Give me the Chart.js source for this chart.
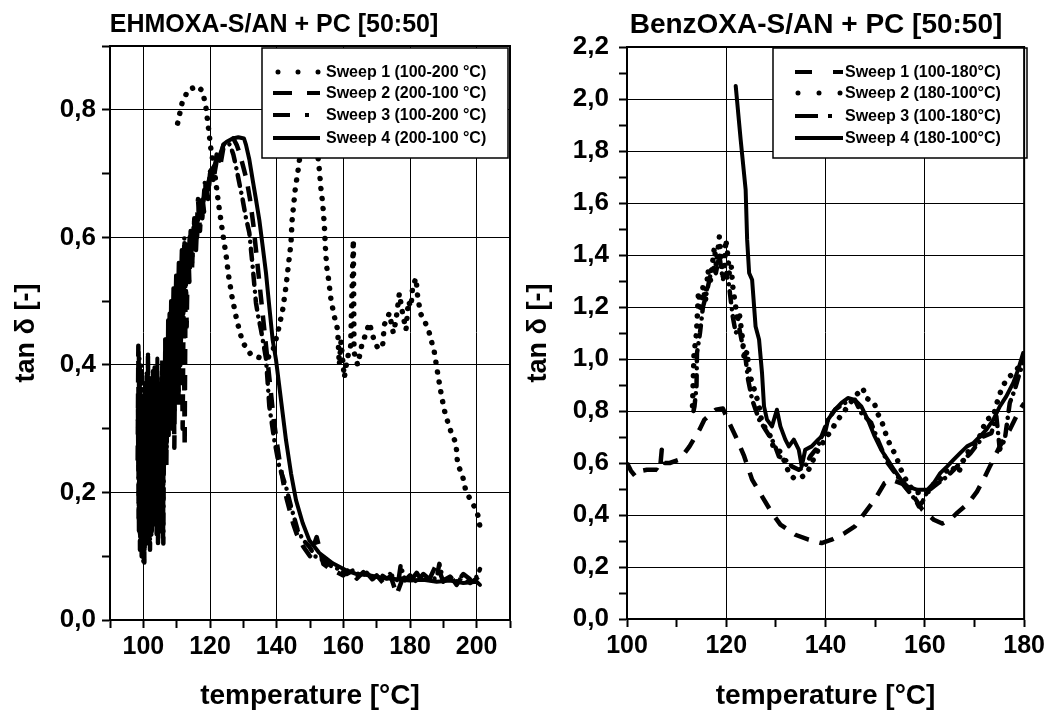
<!DOCTYPE html>
<html><head><meta charset="utf-8">
<script src="https://cdn.jsdelivr.net/npm/chart.js@4.4.1/dist/chart.umd.min.js"></script>
<style>
html,body{margin:0;padding:0;background:#fff;overflow:hidden;width:1052px;height:714px;}
canvas{position:absolute;top:0;}
#c1{left:0}
#c2{left:506px}
</style></head><body>
<canvas id="c1" width="526" height="714"></canvas>
<canvas id="c2" width="546" height="714"></canvas>
<script>
// ---------- text ----------
const titleLeft = 'EHMOXA-S/AN + PC [50:50]';
const titleRight = 'BenzOXA-S/AN + PC [50:50]';
const yAxisTitle = 'tan δ [-]';
const xAxisTitle = 'temperature [°C]';
const labelsLeft = ['Sweep 1 (100-200 °C)', 'Sweep 2 (200-100 °C)', 'Sweep 3 (100-200 °C)', 'Sweep 4 (200-100 °C)'];
const labelsRight = ['Sweep 1 (100-180°C)', 'Sweep 2 (180-100°C)', 'Sweep 3 (100-180°C)', 'Sweep 4 (180-100°C)'];

// ---------- left panel data: [temperature, tan delta] ----------
const ehSweep1 = [[110.3,0.779],[111.6,0.81],[112.3,0.817],[113.3,0.831],[114.8,0.834],[116.3,0.837],[117.8,0.829],[118.8,0.803],[119.6,0.769],[120.3,0.737],[121.3,0.706],[122.5,0.655],[123.8,0.607],[124.8,0.573],[125.6,0.539],[126.6,0.507],[127.8,0.476],[129,0.45],[130,0.434],[131.2,0.424],[132.3,0.416],[133.8,0.413],[135.8,0.41],[137.5,0.412],[139,0.425],[140.3,0.45],[141.8,0.486],[142.8,0.523],[143.6,0.56],[144.3,0.591],[144.6,0.625],[145.6,0.677],[146.6,0.711],[147.5,0.75],[148.5,0.772],[149.5,0.782],[150.5,0.778],[151.5,0.76],[152.3,0.73],[152.8,0.706],[153.3,0.675],[153.8,0.654],[154.3,0.62],[154.6,0.586],[155,0.554],[155.6,0.533],[156.3,0.502],[157.3,0.476],[158.3,0.455],[158.8,0.40],[159.3,0.437],[160.3,0.38],[161.2,0.41],[162.2,0.43],[163.0,0.596],[163.2,0.42],[164.3,0.40],[165.5,0.43],[166.8,0.45],[167.8,0.466],[169.3,0.437],[170.5,0.425],[171.8,0.431],[172.3,0.463],[173.8,0.481],[175.0,0.45],[175.8,0.47],[176.8,0.512],[177.8,0.48],[178.8,0.455],[179.5,0.50],[180.3,0.491],[180.8,0.523],[181.8,0.536],[182.3,0.507],[183.2,0.48],[184.3,0.47],[185.8,0.45],[187.3,0.42],[188.3,0.387],[189.3,0.356],[190.3,0.329],[191.3,0.311],[192.3,0.295],[193.8,0.277],[194.3,0.243],[195.6,0.23],[196.8,0.201],[198.8,0.183],[200.0,0.17],[200.8,0.157],[201,0.141]];
const ehSweep2 = [[98.3,0.25],[98.5,0.43],[98.7,0.14],[98.9,0.40],[99.1,0.13],[99.3,0.35],[99.5,0.10],[99.7,0.33],[99.9,0.12],[100.1,0.28],[100.3,0.09],[100.5,0.31],[100.7,0.12],[100.9,0.38],[101.1,0.16],[101.3,0.30],[101.5,0.13],[101.7,0.33],[101.9,0.18],[102.1,0.36],[102.3,0.15],[102.5,0.31],[102.7,0.20],[102.9,0.39],[103.1,0.22],[103.3,0.37],[103.5,0.16],[103.7,0.34],[103.9,0.21],[104.1,0.39],[104.3,0.17],[104.5,0.35],[104.7,0.19],[104.9,0.38],[105.1,0.13],[105.3,0.32],[105.5,0.24],[105.7,0.41],[105.9,0.12],[106.1,0.37],[106.3,0.26],[106.6,0.44],[106.9,0.24],[107.2,0.42],[107.5,0.30],[107.8,0.45],[108.1,0.33],[108.4,0.47],[108.7,0.30],[109.0,0.46],[109.3,0.27],[109.6,0.47],[109.9,0.38],[110.2,0.51],[110.5,0.33],[110.8,0.50],[111.1,0.40],[111.4,0.55],[111.8,0.30],[112.1,0.52],[112.4,0.27],[112.7,0.56],[113.0,0.46],[113.4,0.60],[113.8,0.53],[114.2,0.61],[114.6,0.55],[115.2,0.63],[115.8,0.58],[116.4,0.66],[117.0,0.61],[117.6,0.67],[118.2,0.64],[118.8,0.69],[119.4,0.66],[120.0,0.70],[121,0.69],[122,0.72],[123,0.71],[124,0.74],[125,0.745],[126,0.75],[127,0.755],[128,0.745],[129,0.73],[130,0.71],[131,0.69],[132,0.66],[133,0.62],[134,0.57],[135,0.52],[136,0.47],[137,0.42],[138,0.37],[139,0.32],[140,0.28],[141,0.245],[142,0.215],[143,0.19],[144,0.17],[145,0.15],[146,0.135],[148,0.115],[150,0.10],[152,0.13],[154,0.088],[156,0.08],[158,0.075],[160,0.07],[162,0.08],[164,0.065],[166,0.075],[168,0.06],[170,0.07],[172,0.058],[174,0.072],[176,0.04],[178,0.068],[180,0.06],[182,0.074],[184,0.058],[186,0.066],[188,0.088],[190,0.06],[192,0.07],[194,0.055],[196,0.072],[198,0.058],[200,0.065],[201,0.06]];
const ehSweep3 = [[98.4,0.33],[98.6,0.16],[98.8,0.41],[99.0,0.11],[99.2,0.29],[99.4,0.40],[99.6,0.15],[99.8,0.27],[100.0,0.09],[100.2,0.24],[100.4,0.14],[100.6,0.30],[100.8,0.20],[101.0,0.39],[101.2,0.17],[101.4,0.42],[101.6,0.14],[101.8,0.27],[102.0,0.11],[102.2,0.29],[102.4,0.13],[102.6,0.35],[102.8,0.23],[103.0,0.36],[103.2,0.15],[103.4,0.40],[103.6,0.19],[103.8,0.33],[104.0,0.13],[104.2,0.29],[104.4,0.12],[104.6,0.34],[104.8,0.19],[105.0,0.36],[105.2,0.15],[105.4,0.38],[105.6,0.21],[105.8,0.34],[106.0,0.12],[106.2,0.31],[106.4,0.24],[106.7,0.41],[107.0,0.27],[107.3,0.43],[107.6,0.29],[107.9,0.48],[108.2,0.34],[108.5,0.50],[108.8,0.37],[109.1,0.47],[109.4,0.33],[109.7,0.52],[110.0,0.38],[110.3,0.54],[110.6,0.36],[110.9,0.50],[111.2,0.41],[111.5,0.56],[111.9,0.45],[112.3,0.60],[112.7,0.50],[113.1,0.58],[113.5,0.53],[113.9,0.60],[114.6,0.56],[115.3,0.63],[116.1,0.60],[116.9,0.66],[117.7,0.63],[118.5,0.69],[119.3,0.66],[120.1,0.71],[121,0.69],[122,0.73],[123,0.72],[124,0.745],[125,0.75],[126,0.745],[127,0.73],[127.8,0.711],[128.8,0.685],[129.8,0.659],[130.8,0.63],[131.8,0.607],[132.8,0.554],[133.8,0.497],[134.5,0.475],[135.3,0.455],[136.8,0.41],[137.8,0.335],[139.3,0.282],[140.8,0.24],[142.8,0.209],[144.3,0.178],[146.3,0.141],[148,0.125],[149.8,0.115],[151.5,0.10],[153.8,0.094],[155,0.09],[157,0.082],[159,0.08],[161,0.072],[163,0.078],[165,0.07],[167,0.074],[169,0.062],[171,0.072],[173,0.065],[175,0.07],[176.5,0.06],[177.2,0.086],[178.5,0.062],[180,0.07],[182,0.06],[184,0.072],[186,0.063],[188,0.066],[188.8,0.088],[190,0.062],[192,0.068],[194,0.06],[196,0.072],[198,0.064],[200,0.068],[201,0.08]];
const ehSweep4 = [[98.6,0.42],[98.8,0.18],[99.0,0.36],[99.2,0.13],[99.4,0.30],[99.6,0.10],[99.8,0.34],[100.0,0.15],[100.2,0.28],[100.4,0.11],[100.6,0.37],[100.8,0.19],[101.0,0.33],[101.2,0.12],[101.4,0.29],[101.6,0.16],[101.8,0.38],[102.0,0.21],[102.2,0.35],[102.4,0.14],[102.6,0.31],[102.8,0.18],[103.0,0.39],[103.2,0.22],[103.4,0.34],[103.6,0.17],[103.8,0.36],[104.0,0.20],[104.2,0.41],[104.4,0.25],[104.6,0.33],[104.8,0.16],[105.0,0.30],[105.2,0.14],[105.4,0.37],[105.6,0.24],[105.8,0.40],[106.0,0.27],[106.2,0.36],[106.4,0.30],[106.6,0.44],[106.8,0.28],[107.0,0.41],[107.2,0.33],[107.4,0.47],[107.6,0.35],[107.8,0.43],[108.0,0.38],[108.3,0.50],[108.6,0.40],[109.0,0.52],[109.4,0.43],[109.8,0.54],[110.2,0.46],[110.6,0.56],[111.0,0.48],[111.5,0.58],[112.0,0.52],[112.5,0.59],[113.0,0.55],[114.0,0.58],[115.0,0.60],[116.0,0.62],[117.0,0.645],[118.0,0.66],[119.0,0.68],[120.0,0.695],[121.0,0.71],[122.0,0.72],[123.0,0.73],[124.0,0.745],[125.0,0.75],[126.8,0.755],[128.5,0.757],[130.2,0.755],[130.8,0.745],[131.8,0.722],[132.8,0.69],[133.8,0.659],[134.8,0.627],[135.8,0.586],[136.8,0.544],[137.8,0.491],[138.8,0.439],[139.8,0.408],[141.3,0.345],[142.8,0.282],[144.3,0.23],[145.8,0.188],[147.8,0.152],[149.8,0.125],[152.8,0.105],[156.8,0.089],[160.8,0.078],[164,0.072],[168,0.07],[172,0.066],[176,0.064],[180,0.062],[184,0.063],[188,0.06],[192,0.062],[196,0.058],[200,0.06],[201,0.055]];

// ---------- right panel data ----------
const bzSweep1 = [[100,0.6],[100.8,0.57],[101.7,0.548],[103,0.57],[104,0.574],[106,0.574],[106.6,0.565],[107,0.651],[107.6,0.60],[108.6,0.60],[110.6,0.613],[112.6,0.664],[114.6,0.728],[115.6,0.767],[117.9,0.805],[119.3,0.81],[120.6,0.754],[121.9,0.702],[123.6,0.626],[125.2,0.536],[127.2,0.472],[129.2,0.408],[130.9,0.363],[133.9,0.324],[136.6,0.305],[139.2,0.292],[141.2,0.305],[143.9,0.331],[145.9,0.356],[147.9,0.408],[149.9,0.459],[151.9,0.523],[153.2,0.536],[155.5,0.52],[157.8,0.47],[159.5,0.42],[161.8,0.382],[163.5,0.367],[165.1,0.382],[166.5,0.408],[168.8,0.446],[170.5,0.49],[171.8,0.536],[173.1,0.587],[175.1,0.664],[177.1,0.728],[179.1,0.805],[180,0.83]];
const bzSweep2 = [[113.2,0.82],[113.5,1.02],[114.0,1.10],[114.4,1.26],[114.8,1.18],[115.3,1.28],[115.8,1.22],[116.3,1.34],[116.8,1.30],[117.6,1.43],[118.0,1.36],[118.6,1.47],[119.0,1.38],[119.5,1.30],[119.9,1.46],[120.3,1.40],[120.6,1.33],[121.0,1.36],[121.3,1.28],[121.9,1.20],[122.2,1.14],[122.6,1.18],[123.3,1.074],[123.6,1.0],[124.2,1.03],[124.6,0.95],[125.2,0.908],[125.9,0.869],[126.6,0.818],[127.2,0.754],[128,0.73],[128.9,0.702],[129.5,0.66],[130.6,0.651],[131.9,0.6],[132.6,0.561],[133.6,0.542],[134.9,0.542],[136.3,0.561],[137.2,0.6],[138.5,0.651],[139.9,0.69],[141.2,0.728],[142.5,0.767],[144.5,0.818],[145.9,0.856],[147.5,0.888],[148.2,0.85],[148.8,0.843],[149.8,0.831],[150.5,0.79],[151.2,0.767],[152.5,0.69],[154.2,0.626],[155.2,0.574],[156.5,0.523],[158.1,0.484],[159.5,0.49],[161.1,0.49],[162,0.53],[163.1,0.536],[164,0.56],[165.1,0.587],[166.8,0.561],[167.5,0.6],[168.5,0.638],[169.8,0.664],[171,0.7],[172.4,0.767],[173.8,0.78],[174.5,0.83],[175.4,0.882],[176.4,0.92],[177.8,0.946],[179.1,0.972],[180,1.0]];
const bzSweep3 = [[113.4,0.80],[113.6,0.818],[114,0.895],[114.1,1.023],[114.7,1.1],[115.3,1.2],[116.0,1.25],[116.6,1.305],[117.2,1.36],[117.9,1.33],[118.6,1.40],[119.3,1.305],[120,1.33],[120.5,1.29],[121.3,1.164],[121.9,1.1],[122.6,1.12],[123.3,1.05],[123.9,1.0],[124.4,0.92],[125.2,0.844],[126.6,0.767],[127.9,0.728],[129.6,0.677],[130.6,0.625],[131.9,0.613],[133.2,0.587],[134.6,0.574],[135.9,0.587],[136.9,0.625],[138.5,0.664],[139.2,0.702],[140.5,0.767],[141.9,0.805],[143.9,0.831],[145.9,0.843],[147.2,0.792],[149.2,0.754],[150.5,0.69],[152.5,0.6],[154.5,0.548],[156.5,0.497],[158.1,0.458],[158.8,0.433],[159.5,0.45],[160.5,0.49],[161.8,0.51],[164.5,0.548],[166.5,0.587],[169.2,0.638],[171.8,0.702],[173.4,0.715],[174.4,0.78],[175.1,0.651],[176.1,0.69],[177.1,0.831],[178.1,0.882],[179.1,0.946],[180,1.0]];
const bzSweep4 = [[121.9,2.05],[122.9,1.843],[123.9,1.651],[124.2,1.459],[124.6,1.331],[125.2,1.305],[125.9,1.125],[126.6,1.075],[127.2,0.946],[127.6,0.818],[128.2,0.767],[129.2,0.741],[130.2,0.805],[130.9,0.741],[131.9,0.69],[132.6,0.664],[133.6,0.69],[134.6,0.651],[135.2,0.587],[135.9,0.651],[137.2,0.664],[138.5,0.69],[139.9,0.715],[140.5,0.767],[141.9,0.805],[143.2,0.831],[144.5,0.85],[145.9,0.843],[147.2,0.818],[148.5,0.767],[149.9,0.702],[151.2,0.651],[152.5,0.613],[153.8,0.574],[155.2,0.536],[156.5,0.51],[158.5,0.497],[160.5,0.497],[161.8,0.523],[163.1,0.561],[164.5,0.587],[165.8,0.613],[167.1,0.638],[168.5,0.664],[169.8,0.677],[171.1,0.702],[172.4,0.728],[173.8,0.767],[175.1,0.818],[176.4,0.856],[177.8,0.908],[178.8,0.959],[179.8,1.023]];

// ---------- axis ranges ----------
const leftX = {min: 90, max: 210, step: 10, labelEvery: 20};
const leftY = {min: 0, max: 0.9, step: 0.1};
const rightX = {min: 100, max: 180, step: 10, labelEvery: 20};
const rightY = {min: 0, max: 2.2, step: 0.1};

// ---------- styles ----------
const FONT = "'Liberation Sans', Arial, Helvetica, sans-serif";
const STY = {
  dot:    {width: 5.5, dash: [0.01, 10], cap: 'round'},
  dash:   {width: 4.5, dash: [15, 11], cap: 'butt'},
  dashdot:{width: 4.5, dash: [11, 7, 0.01, 7], cap: 'round'},
  solid:  {width: 4,   dash: [], cap: 'round'}
};

const decor = {
  id: 'panelDecor',
  afterDatasetsDraw(chart, args, o) {
    const ctx = chart.ctx, L = o.legend;
    ctx.save();
    ctx.fillStyle = '#fff';
    ctx.fillRect(L.x, L.y, L.w, L.h);
    ctx.lineWidth = 1.5; ctx.strokeStyle = '#000';
    ctx.strokeRect(L.x, L.y, L.w, L.h);
    chart.data.datasets.forEach((ds, i) => {
      const s = L.samples[i], y = L.rows[i];
      ctx.lineWidth = s.w || 4;
      ctx.lineCap = s.cap;
      ctx.setLineDash(s.dash);
      ctx.beginPath(); ctx.moveTo(s.from, y); ctx.lineTo(L.x1, y); ctx.stroke();
      ctx.setLineDash([]);
      ctx.fillStyle = '#000';
      ctx.font = 'bold 16px ' + FONT;
      ctx.textBaseline = 'middle'; ctx.textAlign = 'left';
      ctx.fillText(ds.label, L.tx, y + 1);
    });
    ctx.restore();
  },
  afterDraw(chart, args, o) {
    const ctx = chart.ctx, a = chart.chartArea;
    ctx.save();
    ctx.strokeStyle = '#000'; ctx.lineWidth = 2;
    ctx.beginPath(); ctx.moveTo(a.left - 1, a.top); ctx.lineTo(a.right, a.top); ctx.lineTo(a.right, a.bottom + 1); ctx.stroke();
    ctx.fillStyle = '#000';
    ctx.font = o.title.font; ctx.textAlign = 'center'; ctx.textBaseline = 'alphabetic';
    ctx.fillText(o.title.text, o.title.x, o.title.y);
    ctx.restore();
  }
};

const isEven = (v, step) => Math.round(v / step) % 2 === 0;
const fmt = v => v.toFixed(1).replace('.', ',');

function build(id, p) {
  return new Chart(document.getElementById(id), {
    type: 'line',
    data: {
      datasets: p.series.map((s, i) => ({
        label: p.labels[i],
        data: s.pts.map(([x, y]) => ({x, y})),
        borderColor: '#000', backgroundColor: '#000',
        borderWidth: s.sty.width, borderDash: s.sty.dash,
        borderCapStyle: s.sty.cap, borderJoinStyle: 'round',
        pointRadius: 0, tension: 0, fill: false
      }))
    },
    options: {
      responsive: false, animation: false, devicePixelRatio: 1, events: [],
      layout: {padding: p.padding},
      plugins: {legend: {display: false}, tooltip: {enabled: false},
        panelDecor: {legend: p.legend, title: p.title}},
      scales: {
        x: {
          type: 'linear', min: p.xr.min, max: p.xr.max,
          afterFit: sc => { sc.height = p.xH; },
          border: {display: true, color: '#000', width: 2},
          grid: {color: c => (c.tick && c.tick.value % p.xr.labelEvery === 0) ? '#000' : 'rgba(0,0,0,0)',
                 lineWidth: 1, drawTicks: true, tickLength: 8, tickColor: '#000', tickWidth: 2},
          ticks: {stepSize: p.xr.step, autoSkip: false, maxRotation: 0, minRotation: 0, padding: 7, color: '#000',
                  font: {family: FONT, size: 25, weight: 'bold', lineHeight: 1},
                  callback: v => (v % p.xr.labelEvery === 0 ? String(v) : '')},
          title: {display: true, text: xAxisTitle, color: '#000',
                  font: {family: FONT, size: 28, weight: 'bold'}, padding: {top: 0, bottom: 1}}
        },
        y: {
          type: 'linear', min: p.yr.min, max: p.yr.max,
          afterFit: sc => { sc.width = p.yW; },
          border: {display: true, color: '#000', width: 2},
          grid: {color: c => (c.tick && isEven(c.tick.value, p.yr.step)) ? '#000' : 'rgba(0,0,0,0)',
                 lineWidth: 1, drawTicks: true, tickLength: 8, tickColor: '#000', tickWidth: 2},
          ticks: {stepSize: p.yr.step, autoSkip: false, padding: p.yPad, color: '#000',
                  font: {family: FONT, size: 26, weight: 'bold', lineHeight: 1},
                  callback: v => (isEven(v, p.yr.step) ? fmt(v) : '')},
          title: {display: true, text: yAxisTitle, color: '#000',
                  font: {family: FONT, size: 27, weight: 'bold'}, padding: {top: p.yTitlePad, bottom: 0}}
        }
      }
    },
    plugins: [decor]
  });
}

build('c1', {
  labels: labelsLeft,
  series: [{pts: ehSweep1, sty: STY.dot}, {pts: ehSweep2, sty: STY.dash}, {pts: ehSweep3, sty: STY.dashdot}, {pts: ehSweep4, sty: STY.solid}],
  xr: leftX, yr: leftY,
  padding: {left: 0, top: 46, right: 16, bottom: 0},
  xH: 94, yW: 110, yPad: 6, yTitlePad: 10,
  title: {text: titleLeft, x: 274, y: 32, font: 'bold 25px ' + FONT},
  legend: {x: 262, y: 48, w: 246, h: 110, x1: 320, tx: 326, rows: [72, 93, 115, 138],
    samples: [
      {from: 278, dash: [0.01, 20], cap: 'round', w: 5},
      {from: 273, dash: [19, 15], cap: 'butt'},
      {from: 273, dash: [17, 15, 4, 100], cap: 'butt'},
      {from: 273, dash: [], cap: 'butt'}
    ]}
});

build('c2', {
  labels: labelsRight,
  series: [{pts: bzSweep1, sty: STY.dash}, {pts: bzSweep2, sty: STY.dot}, {pts: bzSweep3, sty: STY.dashdot}, {pts: bzSweep4, sty: STY.solid}],
  xr: rightX, yr: rightY,
  padding: {left: 0, top: 47, right: 24, bottom: 0},
  xH: 95, yW: 121, yPad: 10, yTitlePad: 16,
  title: {text: titleRight, x: 310, y: 33, font: 'bold 28px ' + FONT},
  legend: {x: 267, y: 48, w: 254, h: 110, x1: 337, tx: 339, rows: [72, 93, 116, 138],
    samples: [
      {from: 289, dash: [17, 21], cap: 'butt'},
      {from: 292, dash: [0.01, 21], cap: 'round', w: 5},
      {from: 289, dash: [23, 10, 4, 100], cap: 'butt'},
      {from: 289, dash: [], cap: 'butt'}
    ]}
});
</script>
</body></html>
